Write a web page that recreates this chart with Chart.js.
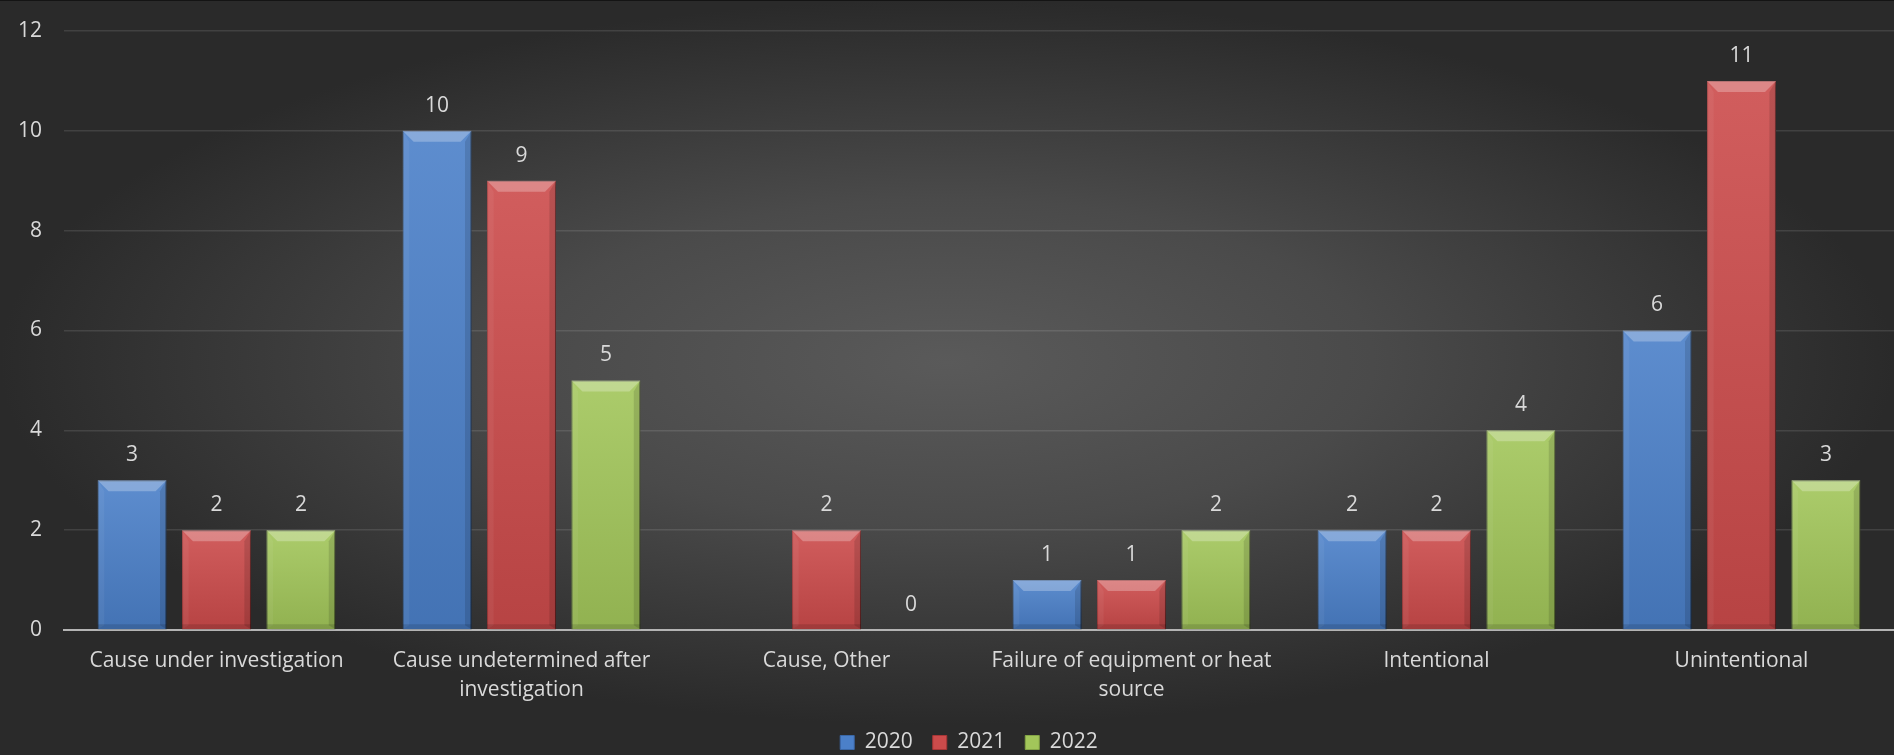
<!DOCTYPE html>
<html>
<head>
<meta charset="utf-8">
<script src="https://cdn.jsdelivr.net/npm/chart.js@4.4.1/dist/chart.umd.min.js"></script>
<style>
  html, body { margin: 0; padding: 0; }
  body { width: 1894px; height: 755px; overflow: hidden; }
  #wrap {
    position: relative;
    width: 1894px; height: 755px;
    background: radial-gradient(ellipse closest-side at 50% 48%, #5a5a5a 0%, #4a4a4a 45%, #2a2a2a 100%);
  }
  #wrap::after {
    content: ''; position: absolute; left: 0; right: 0; top: 0; height: 1px;
    background: #141414;
  }
</style>
</head>
<body>
<div id="wrap"><canvas id="chart"></canvas></div>
<script>
// fire causes by year
const CATEGORIES = [
  'Cause under investigation',
  ['Cause undetermined after', 'investigation'],
  'Cause, Other',
  ['Failure of equipment or heat', 'source'],
  'Intentional',
  'Unintentional',
];
const YEARS = ['2020', '2021', '2022'];
const VALUES_2020 = [3, 10, null, 1, 2, 6];
const VALUES_2021 = [2, 9, 2, 1, 2, 11];
const VALUES_2022 = [2, 5, 0, 2, 4, 3];
const Y_TICKS = [0, 2, 4, 6, 8, 10, 12];

const FILL   = ['#4b80c9', '#cc4b4b', '#a2c65a'];
const EDGE   = ['#3a67a6', '#a83636', '#84a446'];
const TEXT   = '#d9d9d9';
const FONT   = "'Open Sans', sans-serif";

// Bevel / shade over each bar, positions taken from the bar elements
const bevelBars = {
  id: 'bevelBars',
  beforeDatasetsDraw(chart) {
    const ctx = chart.ctx;
    ctx.save();
    ctx.shadowColor = 'rgba(0,0,0,0.45)';
    ctx.shadowBlur = 6;
    ctx.shadowOffsetX = 3;
    ctx.shadowOffsetY = 1;
  },
  afterDatasetsDraw(chart) {
    const ctx = chart.ctx;
    ctx.restore();
    ctx.save();
    chart.data.datasets.forEach((ds, di) => {
      const meta = chart.getDatasetMeta(di);
      meta.data.forEach((bar, i) => {
        if (ds.data[i] == null) return;
        const { x, y, width, base } = bar.getProps(['x', 'y', 'width', 'base'], true);
        const l = x - width / 2, r = x + width / 2;
        const t = Math.min(y, base), b = Math.max(y, base);
        const h = b - t;
        if (h < 2) return;
        const bv = Math.min(11, h / 2, width / 3);

        const g = ctx.createLinearGradient(0, t, 0, b);
        g.addColorStop(0, 'rgba(255,255,255,0.10)');
        g.addColorStop(1, 'rgba(0,0,0,0.10)');
        ctx.fillStyle = g;
        ctx.fillRect(l, t, width, h);

        // top face
        ctx.fillStyle = 'rgba(255,255,255,0.26)';
        ctx.beginPath();
        ctx.moveTo(l, t); ctx.lineTo(r, t);
        ctx.lineTo(r - bv, t + bv); ctx.lineTo(l + bv, t + bv);
        ctx.closePath(); ctx.fill();

        // left face
        ctx.fillStyle = 'rgba(255,255,255,0.05)';
        ctx.beginPath();
        ctx.moveTo(l, t); ctx.lineTo(l + bv * 0.6, t + bv);
        ctx.lineTo(l + bv * 0.6, b - 4); ctx.lineTo(l, b);
        ctx.closePath(); ctx.fill();

        // right face
        ctx.fillStyle = 'rgba(0,0,0,0.12)';
        ctx.beginPath();
        ctx.moveTo(r, t); ctx.lineTo(r - bv * 0.6, t + bv);
        ctx.lineTo(r - bv * 0.6, b - 4); ctx.lineTo(r, b);
        ctx.closePath(); ctx.fill();

        // bottom face
        ctx.fillStyle = 'rgba(0,0,0,0.12)';
        ctx.fillRect(l, b - 5, width, 5);
      });
    });
    ctx.restore();
  },
};

// value above each bar
const valueLabels = {
  id: 'valueLabels',
  afterDatasetsDraw(chart) {
    const ctx = chart.ctx;
    ctx.save();
    ctx.font = '21px ' + FONT;
    ctx.fillStyle = TEXT;
    ctx.textAlign = 'center';
    ctx.textBaseline = 'middle';
    chart.data.datasets.forEach((ds, di) => {
      chart.getDatasetMeta(di).data.forEach((bar, i) => {
        const v = ds.data[i];
        if (v == null) return;
        ctx.fillText(String(v), bar.x, bar.y - 25);
      });
    });
    ctx.restore();
  },
};

// legend sits a little right of the canvas centre
const legendShift = {
  id: 'legendShift',
  afterLayout(chart) {
    const lg = chart.legend;
    if (!lg) return;
    lg.left += 22;
    lg.right += 22;
  },
};

const series = [VALUES_2020, VALUES_2021, VALUES_2022];

new Chart(document.getElementById('chart'), {
  type: 'bar',
  data: {
    labels: CATEGORIES,
    datasets: YEARS.map((yr, k) => ({
      label: yr,
      data: series[k],
      backgroundColor: FILL[k],
      borderColor: EDGE[k],
      borderWidth: 1,
      categoryPercentage: 0.83,
      barPercentage: 0.817,
    })),
  },
  options: {
    responsive: true,
    maintainAspectRatio: false,
    animation: false,
    layout: { padding: { top: 31, right: 0, bottom: -8, left: 0 } },
    plugins: {
      tooltip: { enabled: false },
      legend: {
        position: 'bottom',
        labels: {
          color: TEXT,
          font: { family: FONT, size: 21, lineHeight: 1.0 },
          boxWidth: 14,
          boxHeight: 14,
          padding: 20,
          generateLabels: chart => YEARS.map((yr, k) => ({
            text: yr,
            fillStyle: FILL[k],
            strokeStyle: EDGE[k],
            lineWidth: 1,
            fontColor: TEXT,
            datasetIndex: k,
          })),
        },
      },
    },
    scales: {
      x: {
        grid: { display: false, drawTicks: false },
        border: { color: '#b4b4b4', width: 2 },
        ticks: {
          color: TEXT,
          font: { family: FONT, size: 21, lineHeight: 1.38 },
          padding: 17,
          maxRotation: 0,
          autoSkip: false,
        },
        afterFit: s => { s.height = 82; },
      },
      y: {
        min: 0,
        max: 12,
        afterBuildTicks: s => { s.ticks = Y_TICKS.map(v => ({ value: v })); },
        grid: { color: 'rgba(255,255,255,0.11)', lineWidth: 1.5, drawTicks: false },
        border: { display: false },
        ticks: {
          color: TEXT,
          font: { family: FONT, size: 21 },
          padding: 22,
        },
        afterFit: s => { s.width = 64; s.paddingTop = 0; s.paddingBottom = 0; },
      },
    },
  },
  plugins: [bevelBars, valueLabels, legendShift],
});
</script>
</body>
</html>
